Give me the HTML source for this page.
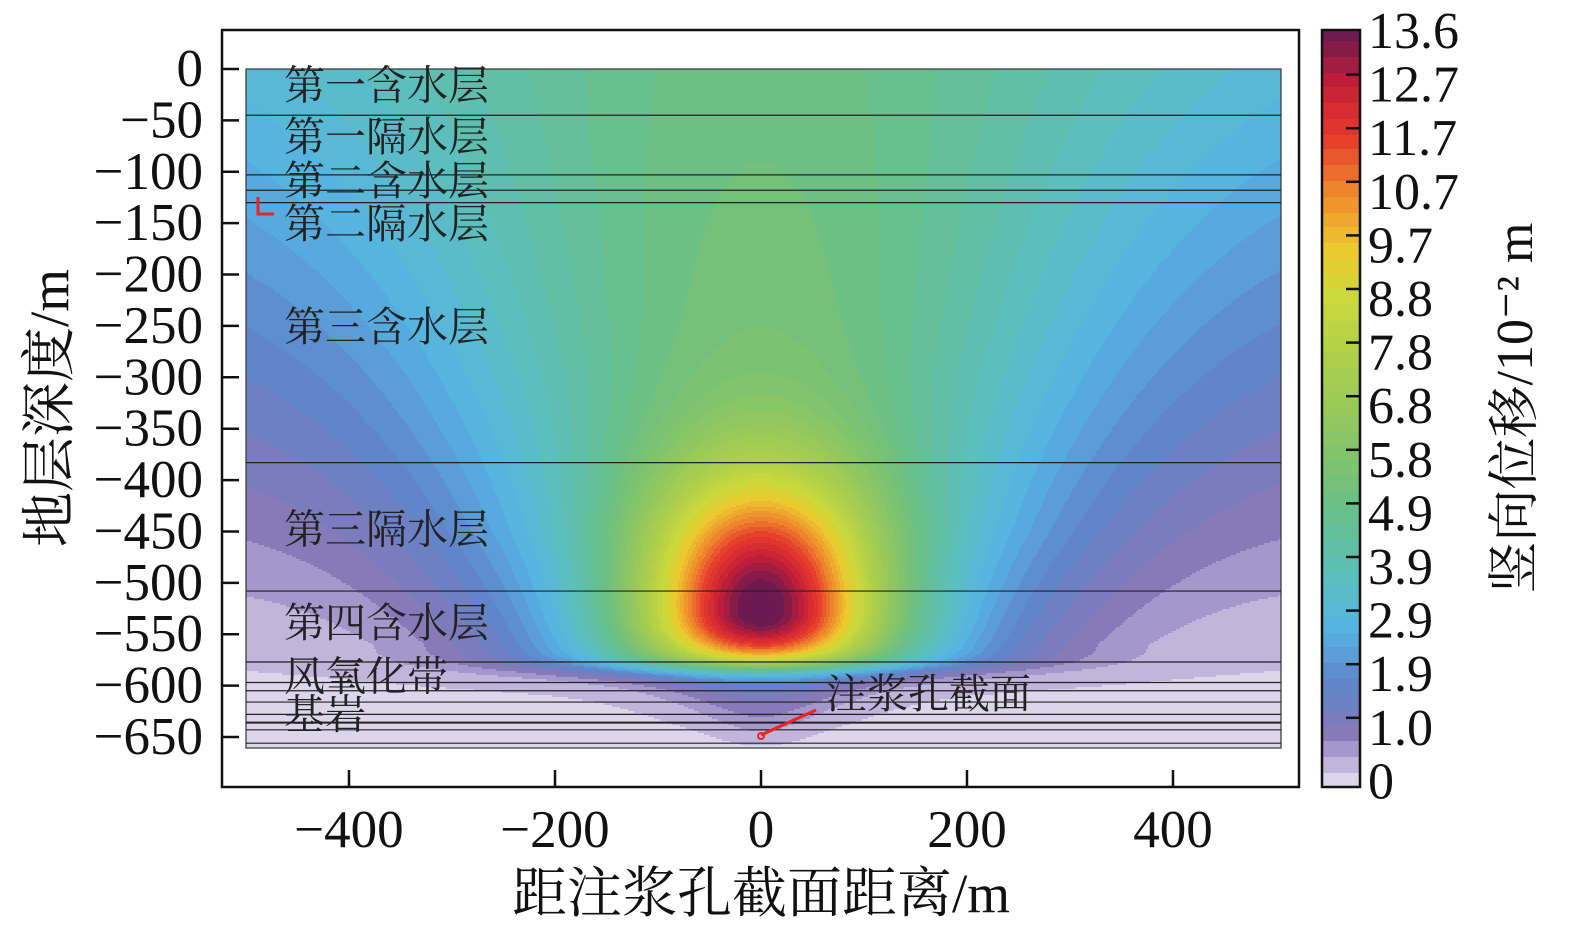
<!DOCTYPE html>
<html><head><meta charset="utf-8"><style>
body{margin:0;background:#fff;width:1575px;height:934px;overflow:hidden;position:relative;font-family:"Liberation Serif","Noto Serif CJK SC",serif}
</style></head><body>
<svg id="chart" width="1575" height="934" style="position:absolute;left:0;top:0" shape-rendering="crispEdges"><g id="fieldLayer"></g><g id="overlay" shape-rendering="auto"></g></svg>
<script>
const xTicks=[-400,-200,0,200,400];
const yTicks=[0,-50,-100,-150,-200,-250,-300,-350,-400,-450,-500,-550,-600,-650];
const cbLabels=["13.6","12.7","11.7","10.7","9.7","8.8","7.8","6.8","5.8","4.9","3.9","2.9","1.9","1.0","0"];
const layerDepths=[-45,-103,-118,-130,-383,-508,-577,-597,-605,-616,-628,-636,-643,-656];
const layerNames=["第一含水层","第一隔水层","第二含水层","第二隔水层","第三含水层","第三隔水层","第四含水层","风氧化带","基岩"];
const layerLabelDepths=[-15,-65,-108,-150,-250,-447,-538,-590,-627];
const cmapV=[0,0.5,1.0,1.9,2.9,3.9,4.9,5.8,6.8,7.8,8.8,9.7,10.7,11.7,12.7,13.6];
const cmapC=["#e9e6f2","#b9acd8","#8578b8","#5f86cc","#55b5e2","#5dbfb8","#66bf8c","#7cc270","#98c95a","#b0d04a","#cbd93a","#ecc82e","#ef8a2c","#e63b2c","#c21d38","#6a1a50"];
var X0=761,XS=1.03,Y0=69,YS=1.0277;
function px(x){return X0+x*XS;}
function py(d){return Y0-d*YS;}
function hex(h){return [parseInt(h.substr(1,2),16),parseInt(h.substr(3,2),16),parseInt(h.substr(5,2),16)];}
var CC=cmapC.map(hex);
function color(v){v=Math.max(0,Math.min(13.6,v));var i=0;while(i<cmapV.length-2&&v>cmapV[i+1])i++;
 var t=(v-cmapV[i])/(cmapV[i+1]-cmapV[i]);var r=[];for(var k=0;k<3;k++)r.push(Math.round(CC[i][k]+(CC[i+1][k]-CC[i][k])*t));return 'rgb('+r.join(',')+')';}
function field(x,d){
 var sig=1/(1+Math.exp((d-583)/6));
 var W=380-160*Math.min(d,560)/560;
 var A=2.4+2.6*Math.min(d,450)/450;
 var B=2.8-2.5*Math.min(d,560)/560;
 var bg=(A*Math.exp(-(x/W)*(x/W))+B)*sig;
 var s=d<530?128:62;
 var blob=8.4*Math.exp(-(x/112)*(x/112)-((d-530)/s)*((d-530)/s));
 var w=1.4*Math.max(1,660-d)+20;
 var below=(1-sig)*(0.25+1.6*Math.exp(-(x/w)*(x/w))*Math.max(0,(660-d)/80));
 return bg+blob*sig+below;
}
var NS='http://www.w3.org/2000/svg';
var fieldG=document.getElementById('fieldLayer'),ov=document.getElementById('overlay');
function mk(parent,t,a,txt){var e=document.createElementNS(NS,t);for(var k in a)e.setAttribute(k,a[k]);if(txt!=null)e.textContent=txt;parent.appendChild(e);return e;}
function q(v){return Math.floor(v/0.28)*0.28+0.14;}
var x1=246,x2=1281,y1=69,y2=748,STEP=2;
var frag=document.createDocumentFragment();
function addRun(x,y,w,h,col){var r=document.createElementNS(NS,'rect');r.setAttribute('x',x);r.setAttribute('y',y);r.setAttribute('width',w);r.setAttribute('height',h);r.setAttribute('fill',col);frag.appendChild(r);}
for(var y=y1;y<y2;y+=STEP){
 var h=Math.min(STEP,y2-y);
 var runStart=x1,runCol=null;
 for(var x=x1;x<x2;x+=STEP){
  var col=color(q(field((x+1-X0)/XS,(y+1-Y0)/YS)));
  if(col!==runCol){
   if(runCol)addRun(runStart,y,x-runStart,h,runCol);
   runStart=x;runCol=col;}
 }
 if(runCol)addRun(runStart,y,x2-runStart,h,runCol);
}
fieldG.appendChild(frag);
for(var yy=31;yy<787;yy+=2){mk(fieldG,'rect',{x:1322,y:yy,width:38,height:2,fill:color(q((787-yy)/756*13.6))});}
var e;
e=mk(ov,'rect',{x:222,y:30,width:1077,height:757,fill:'none',stroke:'#111','stroke-width':2.5});


e=mk(ov,'rect',{x:x1,y:y1,width:x2-x1,height:y2-y1,fill:'none',stroke:'#333','stroke-width':1.2});


layerDepths.forEach(function(d){e=mk(ov,'line',{x1:x1,x2:x2,y1:py(d),y2:py(d),stroke:'#222','stroke-width':d===-636?2:1.2});

});
layerNames.forEach(function(n,i){e=mk(ov,'text',{x:284,y:py(layerLabelDepths[i])+15,'font-size':41,fill:'#222'},n);

});
xTicks.forEach(function(t){mk(ov,'line',{x1:px(t),x2:px(t),y1:770,y2:787,stroke:'#111','stroke-width':2.5});
e=mk(ov,'text',{x:px(t),y:847,'font-size':53,'text-anchor':'middle',fill:'#111'},t<0?'−'+(-t):String(t));

});
yTicks.forEach(function(t){mk(ov,'line',{x1:222,x2:239,y1:py(t),y2:py(t),stroke:'#111','stroke-width':2.5});
e=mk(ov,'text',{x:203,y:py(t)+17,'font-size':53,'text-anchor':'end',fill:'#111'},t<0?'−'+(-t):String(t));

});
e=mk(ov,'text',{x:761,y:912,'font-size':55,'text-anchor':'middle',fill:'#111'},'距注浆孔截面距离/m');


e=mk(ov,'text',{x:0,y:0,'font-size':55,'text-anchor':'middle',fill:'#111',transform:'translate(68,408) rotate(-90)'},'地层深度/m');


e=mk(ov,'rect',{x:1322,y:30,width:38,height:757,fill:'none',stroke:'#111','stroke-width':2.5});


cbLabels.forEach(function(l,i){var y=30+i*53.6;if(i>0&&i<14)mk(ov,'line',{x1:1346,x2:1360,y1:y-9,y2:y-9,stroke:'#111','stroke-width':2.5});
e=mk(ov,'text',{x:1368,y:y+18,'font-size':52,fill:'#111'},l);

});
e=mk(ov,'text',{x:0,y:0,'font-size':52,'text-anchor':'middle',fill:'#111',transform:'translate(1532,408) rotate(-90)'},'竖向位移/10⁻² m');


mk(ov,'path',{d:'M258 197 V214 H274',fill:'none',stroke:'#e22','stroke-width':3});
mk(ov,'line',{x1:761,y1:735,x2:816,y2:710,stroke:'#e22','stroke-width':3});
mk(ov,'circle',{cx:761,cy:736,r:3,fill:'none',stroke:'#e22','stroke-width':2});
e=mk(ov,'text',{x:826,y:708,'font-size':41,fill:'#222'},'注浆孔截面');


</script></body></html>
